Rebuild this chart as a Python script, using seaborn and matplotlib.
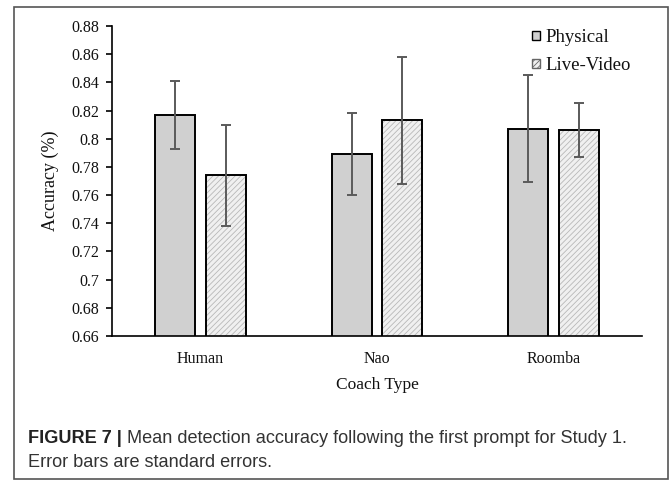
import matplotlib
matplotlib.use("Agg")
import matplotlib.pyplot as plt
from matplotlib.patches import Rectangle, Patch
import seaborn as sns
import pandas as pd

# ---- data ----
coaches = ["Human", "Nao", "Roomba"]
conditions = ["Physical", "Live-Video"]
physical_acc = [0.817, 0.789, 0.807]
live_video_acc = [0.774, 0.813, 0.806]
physical_se = [0.024, 0.029, 0.038]
live_video_se = [0.036, 0.045, 0.019]
y_ticks = [0.66, 0.68, 0.70, 0.72, 0.74, 0.76, 0.78, 0.80, 0.82, 0.84, 0.86, 0.88]
y_tick_labels = ["0.66", "0.68", "0.7", "0.72", "0.74", "0.76", "0.78", "0.8",
                 "0.82", "0.84", "0.86", "0.88"]
caption_bold = "FIGURE 7 |"
caption_rest = " Mean detection accuracy following the first prompt for Study 1."
caption_line2 = "Error bars are standard errors."

df = pd.DataFrame({
    "coach": coaches * 2,
    "condition": [conditions[0]] * 3 + [conditions[1]] * 3,
    "accuracy": physical_acc + live_video_acc,
    "se": physical_se + live_video_se,
})

sns.set_theme(style="white")
plt.rcParams["font.family"] = ["Liberation Serif", "DejaVu Serif"]
plt.rcParams["hatch.linewidth"] = 0.6

W, H = 670, 484
fig = plt.figure(figsize=(W / 100, H / 100), dpi=100)
ax = fig.add_axes([112 / W, 1 - 336 / H, (642 - 112) / W, (336 - 26) / H])

phys_color = "#d0d0d0"
hatch_bg = "#f0f0f0"
hatch_line = "#b8b8b8"

sns.barplot(data=df, x="coach", y="accuracy", hue="condition",
            hue_order=conditions, order=coaches,
            palette={conditions[0]: phys_color, conditions[1]: hatch_bg},
            width=0.573, gap=0.21, errorbar=None, legend=False,
            edgecolor="black", linewidth=1.4, ax=ax)

ax.set_ylim(0.66, 0.88)
ax.set_xlim(-0.5, 2.5)

# style hatched bars and add error bars
for cont, level in zip(ax.containers, conditions):
    sub = df[df["condition"] == level].set_index("coach").loc[coaches]
    xs, ys = [], []
    for bar in cont:
        xs.append(bar.get_x() + bar.get_width() / 2)
        ys.append(bar.get_height())
        if level == conditions[1]:
            bar.set_hatch("//////")
            bar.set_edgecolor(hatch_line)
            bar.set_linewidth(0)
            ax.add_patch(Rectangle((bar.get_x(), bar.get_y()), bar.get_width(),
                                   bar.get_height(), fill=False,
                                   edgecolor="black", linewidth=1.4,
                                   zorder=bar.get_zorder() + 0.1))
    ax.errorbar(xs, ys, yerr=sub["se"].values, fmt="none", ecolor="#5a5a5a",
                elinewidth=1.4, capsize=3.5, capthick=1.4, zorder=5)

for s in ["top", "right"]:
    ax.spines[s].set_visible(False)
for s in ["left", "bottom"]:
    ax.spines[s].set_color("black")
    ax.spines[s].set_linewidth(1.2)

ax.set_yticks(y_ticks)
ax.set_yticklabels(y_tick_labels)
ax.tick_params(axis="y", which="major", left=True, length=4, width=1.2,
               color="black", pad=5, labelsize=11.5, labelcolor="#111111")
ax.tick_params(axis="x", which="major", bottom=False, length=0, pad=11,
               labelsize=11.5, labelcolor="#111111")
ax.set_xlabel("Coach Type", fontsize=12.5, labelpad=7, color="#111111")
ax.set_ylabel("Accuracy (%)", fontsize=13, labelpad=9, color="#111111")

handles = [
    Patch(facecolor=phys_color, edgecolor="black", linewidth=1.0, label=conditions[0]),
    Patch(facecolor=hatch_bg, edgecolor="#666666", hatch="//////", linewidth=1.0,
          label=conditions[1]),
]
leg = ax.legend(handles=handles, loc="upper left",
                bbox_to_anchor=((521 - 112) / 530, 1 + 8 / 310),
                frameon=False, handlelength=0.42, handleheight=0.42,
                handletextpad=0.3, labelspacing=0.58, fontsize=13.5,
                borderaxespad=0.2)
for t in leg.get_texts():
    t.set_color("#111111")

# outer frame
fig.patches.append(Rectangle((14 / W, 1 - 479 / H), (668 - 14) / W, (479 - 7) / H,
                             transform=fig.transFigure, fill=False,
                             edgecolor="#555555", linewidth=1.2))

# caption
sans = ["Liberation Sans Narrow", "Liberation Sans", "DejaVu Sans"]
t1 = fig.text(28 / W, 1 - 443 / H, caption_bold, fontsize=13.1, fontweight="bold",
              family=sans, color="#222222", va="baseline")
fig.canvas.draw()
bb = t1.get_window_extent()
fig.text(bb.x1 / W, 1 - 443 / H, caption_rest, fontsize=13.1, family=sans,
         color="#333333", va="baseline")
fig.text(28 / W, 1 - 467 / H, caption_line2, fontsize=13.1, family=sans,
         color="#333333", va="baseline")

fig.savefig("out.png", dpi=100)
